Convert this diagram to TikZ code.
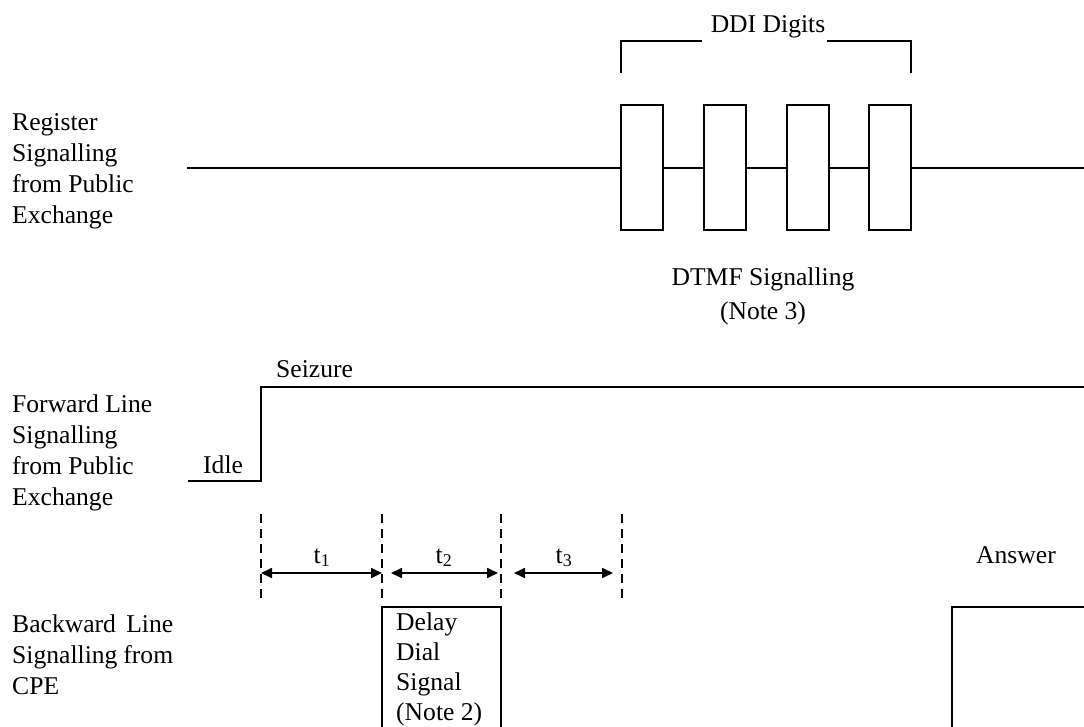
\documentclass[tikz,border=0pt]{standalone}
\usepackage{fontspec}
\setmainfont{Liberation Serif}
\usetikzlibrary{arrows.meta}

\begin{document}
\begin{tikzpicture}[x=1pt,y=-1pt,
  sig/.style={line width=1.6pt, line join=miter, line cap=butt},
  guide/.style={line width=2.4pt, dash pattern=on 9pt off 6pt},
  span/.style={line width=1.7pt, {Triangle[length=11pt,width=10pt]}-{Triangle[length=11pt,width=10pt]}},
  lbl/.style={inner sep=0pt, font=\fontsize{25.6}{31}\selectfont},
  boxlbl/.style={inner sep=0pt, font=\fontsize{25.6}{30}\selectfont},
  note/.style={inner sep=0pt, font=\fontsize{25.6}{34}\selectfont},
]
\useasboundingbox (0,0) rectangle (1084,727);

% ---- row labels ----
\node[lbl, anchor=base west] (reglbl) at (12,131)
  {\begin{tabular}[t]{@{}l@{}}Register\\Signalling\\from Public\\Exchange\end{tabular}};
\node[lbl, anchor=base west] (fwdlbl) at (12,412)
  {\begin{tabular}[t]{@{}l@{}}Forward Line\\Signalling\\from Public\\Exchange\end{tabular}};
\node[lbl, anchor=base west] (bwdlbl) at (12,632)
  {\begin{tabular}[t]{@{}l@{}}\makebox[161pt][s]{Backward Line}\\\makebox[161pt][s]{Signalling from}\\CPE\end{tabular}};

% ---- register signalling: DTMF digit pulses ----
\coordinate (regstart) at (187,168);
\coordinate (regend) at (1084,168);
\foreach \x [count=\i] in {621,704,787,869} {
  \draw[sig] (\x,105) rectangle ++(42,125);
  \coordinate (pl\i) at (\x,168);
  \coordinate (pr\i) at (\x+42,168);
}
\draw[sig] (regstart) -- (pl1);
\draw[sig] (pr1) -- (pl2);
\draw[sig] (pr2) -- (pl3);
\draw[sig] (pr3) -- (pl4);
\draw[sig] (pr4) -- (regend);

% bracket over the digits
\node[lbl, anchor=base] (ddi) at (768,33) {DDI Digits};
\draw[sig] (621,73) -- (621,41) -- (702,41);
\draw[sig] (827,41) -- (911,41) -- (911,73);

\node[note, anchor=base] (dtmf) at (763,286)
  {\begin{tabular}[t]{@{}c@{}}DTMF Signalling\\(Note 3)\end{tabular}};

% ---- forward line signalling ----
\coordinate (idle0) at (188,481);
\coordinate (rise) at (261,481);
\coordinate (seize) at (261,387);
\coordinate (fwdend) at (1084,387);
\draw[sig] (idle0) -- (rise) -- (seize) -- (fwdend);
\node[lbl, anchor=base west] (idle) at (203,473) {Idle};
\node[lbl, anchor=base west] (seizure) at (276,377) {Seizure};

% ---- timing markers ----
\foreach \x [count=\i] in {261,382,501,622} {
  \coordinate (m\i) at (\x,573);
  \draw[guide] (\x,514) -- (\x,600);
}
\coordinate (a1) at (261,573);   \coordinate (b1) at (382,573);
\coordinate (a2) at (391,573);   \coordinate (b2) at (498,573);
\coordinate (a3) at (514,573);   \coordinate (b3) at (613,573);
\draw[span] (a1) -- (b1);
\draw[span] (a2) -- (b2);
\draw[span] (a3) -- (b3);
\node[lbl, anchor=base] (t1) at (322,563) {t\textsubscript{1}};
\node[lbl, anchor=base] (t2) at (444,563) {t\textsubscript{2}};
\node[lbl, anchor=base] (t3) at (564,563) {t\textsubscript{3}};

% ---- backward line signalling ----
\draw[sig] (382,727) -- (382,607) -- (501,607) -- (501,727);
\node[boxlbl, anchor=base west] (delay) at (396,630)
  {\begin{tabular}[t]{@{}l@{}}Delay\\Dial\\Signal\\(Note 2)\end{tabular}};

\node[lbl, anchor=base] (answer) at (1016,563) {Answer};
\draw[sig] (952,727) -- (952,607) -- (1084,607);
\end{tikzpicture}
\end{document}
